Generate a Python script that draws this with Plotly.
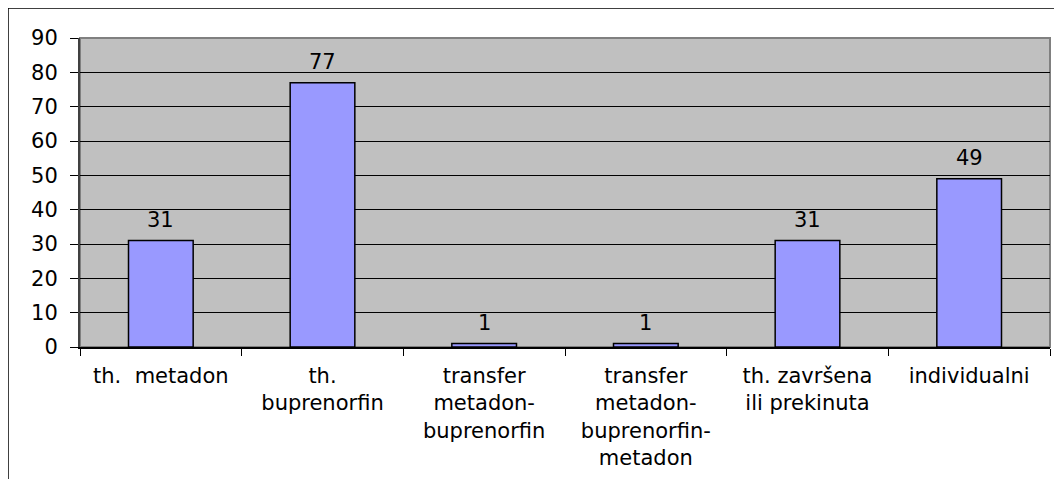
import plotly.graph_objects as go

categories = [
    "th.\u00a0\u00a0metadon",
    "th.<br>buprenorfin",
    "transfer<br>metadon-<br>buprenorfin",
    "transfer<br>metadon-<br>buprenorfin-<br>metadon",
    "th. završena<br>ili prekinuta",
    "individualni",
]
values = [31, 77, 1, 1, 31, 49]
y_ticks = [0, 10, 20, 30, 40, 50, 60, 70, 80, 90]

FONT = "DejaVu Sans"
FS = 21

fig = go.Figure()
fig.add_trace(go.Bar(
    x=categories,
    y=values,
    marker=dict(color="#9999FF", line=dict(color="black", width=1.5)),
    width=0.4,
    hoverinfo="skip",
))

for c, v in zip(categories, values):
    fig.add_annotation(x=c, y=v, text=str(v), showarrow=False, yshift=21,
                       font=dict(family=FONT, size=FS, color="black"))

# plot area border (gray) and outer chart border (black)
fig.add_shape(type="rect", xref="paper", yref="paper", x0=0, y0=0, x1=1, y1=1,
              line=dict(color="#808080", width=2), layer="below")
fig.add_shape(type="line", xref="paper", yref="paper", x0=-72/970, y0=1 + 30/309, x1=1.05, y1=1 + 30/309,
              line=dict(color="black", width=1.5))
fig.add_shape(type="line", xref="paper", yref="paper", x0=-72/970, y0=1 + 30/309, x1=-72/970, y1=-0.5,
              line=dict(color="black", width=1.5))

fig.update_layout(
    width=1062, height=479,
    margin=dict(l=72, r=20, t=30, b=140),
    paper_bgcolor="white",
    plot_bgcolor="#C0C0C0",
    showlegend=False,
    font=dict(family=FONT, size=FS, color="black"),
    bargap=0.6,
)
fig.update_xaxes(
    type="category",
    tickson="boundaries",
    ticks="outside", ticklen=7, tickcolor="black", tickwidth=1,
    showline=True, linecolor="black", linewidth=1.5,
    showgrid=False,
    tickfont=dict(family=FONT, size=FS, color="black"),
    ticklabelstandoff=9,
    range=[-0.5, 5.5],
)
fig.update_yaxes(
    range=[0, 90],
    tickvals=y_ticks,
    ticks="outside", ticklen=8, tickcolor="black", tickwidth=1,
    showline=True, linecolor="#404040", linewidth=2,
    showgrid=True, gridcolor="black", gridwidth=1,
    zeroline=False,
    tickfont=dict(family=FONT, size=FS, color="black"),
    ticklabelstandoff=8,
)

fig.write_html("out.html")
